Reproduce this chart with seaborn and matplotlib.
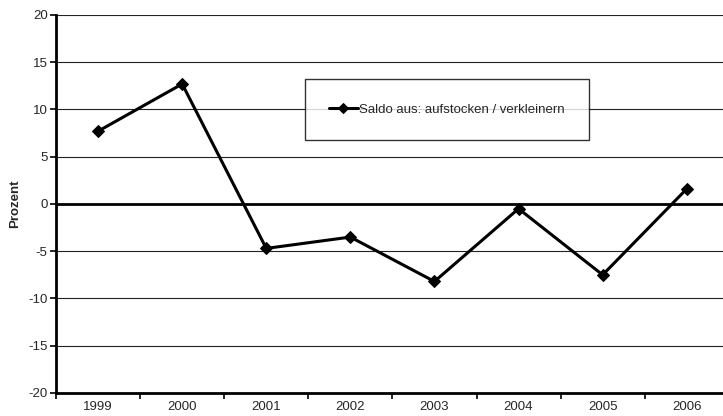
import numpy as np
import pandas as pd
import seaborn as sns
import matplotlib.pyplot as plt
from matplotlib.ticker import FixedLocator

# Values
years = ["1999", "2000", "2001", "2002", "2003", "2004", "2005", "2006"]
saldo = [7.7, 12.7, -4.7, -3.5, -8.2, -0.5, -7.5, 1.6]
series_label = "Saldo aus: aufstocken / verkleinern"
y_ticks = [-20, -15, -10, -5, 0, 5, 10, 15, 20]

df = pd.DataFrame({"Jahr": years, "Prozent": saldo})

sns.set_theme(style="white")
plt.rcParams["font.family"] = ["Liberation Sans", "DejaVu Sans"]

fig = plt.figure(figsize=(7.23, 4.16), dpi=100)
ax = fig.add_axes([0.0775, 0.0553, 0.9305, 0.9087])

# horizontal gridlines
for v in y_ticks:
    if v == 0:
        ax.axhline(v, color="black", linewidth=2.0, zorder=1)
    else:
        ax.axhline(v, color="#222222", linewidth=0.8, zorder=1)

sns.lineplot(data=df, x="Jahr", y="Prozent", sort=False, color="black",
             linewidth=2.2, marker="D", markersize=6, markeredgecolor="black",
             label=series_label, ax=ax, zorder=3)

ax.set_ylim(-20, 20)
ax.set_xlim(-0.5, len(years) - 0.5)
ax.set_yticks(y_ticks)
ax.set_yticklabels([str(v) for v in y_ticks], fontsize=9.5)

# category labels at centres, tick marks at boundaries
ax.xaxis.set_major_locator(FixedLocator(np.arange(-0.5, len(years), 1.0)))
ax.xaxis.set_minor_locator(FixedLocator(np.arange(len(years))))
ax.set_xticklabels([])
ax.set_xticklabels(years, minor=True, fontsize=9.5)
ax.tick_params(axis="x", which="major", direction="out", length=4, width=1.2,
               color="black", bottom=True)
ax.tick_params(axis="x", which="minor", length=0, pad=6)
ax.tick_params(axis="y", direction="out", length=4, width=1.2, color="black",
               left=True, pad=2)

ax.set_xlabel("")
ax.set_ylabel("Prozent", fontsize=9.5, fontweight="bold", labelpad=5)

for side in ["top", "right"]:
    ax.spines[side].set_visible(False)
for side in ["left", "bottom"]:
    ax.spines[side].set_color("black")
    ax.spines[side].set_linewidth(2.0)

leg = ax.legend(loc="center", bbox_to_anchor=(0.581, 0.749), fontsize=9.5,
                frameon=True, fancybox=False, borderpad=1.85, handlelength=2.2,
                handletextpad=0.1, borderaxespad=0)
leg.get_frame().set_edgecolor("black")
leg.get_frame().set_linewidth(1.0)
for h in leg.get_lines():
    h.set_markersize(5)

fig.savefig("out.png", dpi=100)
